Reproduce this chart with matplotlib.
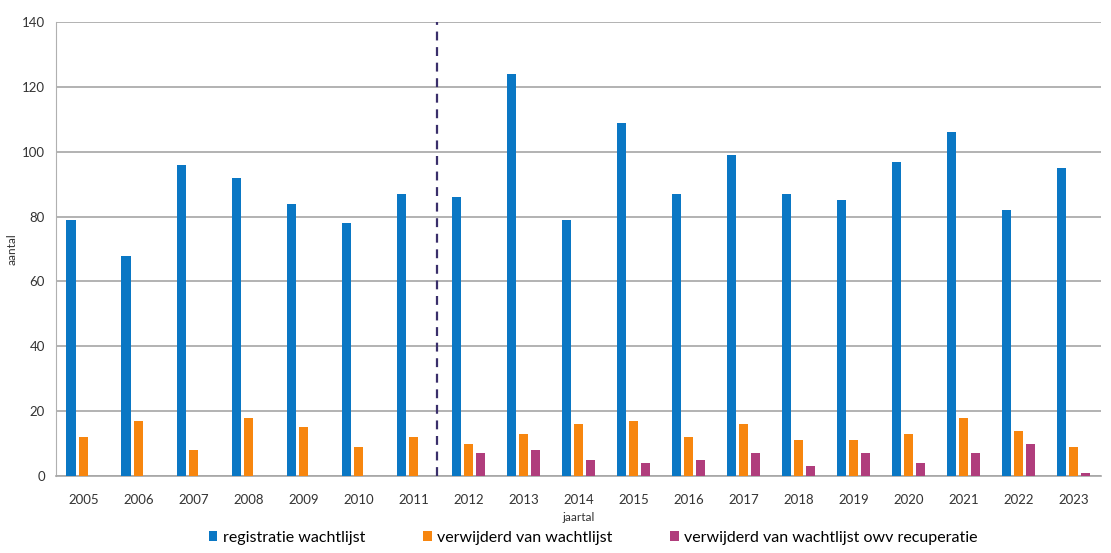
import numpy as np
import matplotlib.pyplot as plt

# Jaarlijkse cijfers wachtlijst
jaren = ["2005", "2006", "2007", "2008", "2009", "2010", "2011", "2012", "2013", "2014",
         "2015", "2016", "2017", "2018", "2019", "2020", "2021", "2022", "2023"]
registratie = [79, 68, 96, 92, 84, 78, 87, 86, 124, 79, 109, 87, 99, 87, 85, 97, 106, 82, 95]
verwijderd = [12, 17, 8, 18, 15, 9, 12, 10, 13, 16, 17, 12, 16, 11, 11, 13, 18, 14, 9]
recuperatie = [0, 0, 0, 0, 0, 0, 0, 7, 8, 5, 4, 5, 7, 3, 7, 4, 7, 10, 1]

plt.rcParams['font.family'] = ['Lato', 'DejaVu Sans']

fig = plt.figure(figsize=(11.11, 5.53), dpi=100)
ax = fig.add_axes([0.0504, 0.1392, 0.9406, 0.8208])

x = np.arange(len(jaren))
w = 0.17
d = 0.224
ax.bar(x - d, registratie, w, color='#0a77c4', label='registratie wachtlijst', zorder=3)
ax.bar(x, verwijderd, w, color='#f7860f', label='verwijderd van wachtlijst', zorder=3)
ax.bar(x + d, recuperatie, w, color='#b03d7c',
       label='verwijderd van wachtlijst owv recuperatie', zorder=3)

# scheiding tussen 2011 en 2012
ax.axvline(6.42, color='#3a2f6b', linestyle=(0, (4, 3)), linewidth=1.6, zorder=4)

ax.set_xlim(-0.5, len(jaren) - 0.5)
ax.set_ylim(0, 140)
ax.set_yticks(range(0, 141, 20))
ax.set_xticks(x)
ax.set_xticklabels(jaren)
ax.tick_params(axis='both', length=0, labelsize=9.5, colors='#333333')
ax.tick_params(axis='x', pad=13)
ax.tick_params(axis='y', pad=8)
ax.yaxis.grid(True, color='#a6a6a6', linewidth=1.2, zorder=0)

for s in ['top', 'right']:
    ax.spines[s].set_visible(False)
ax.spines['left'].set_color('#b0b0b0')
ax.spines['bottom'].set_color('#a6a6a6')
ax.spines['bottom'].set_linewidth(1.2)

ax.set_xlabel('jaartal', fontsize=8.5, color='#333333', labelpad=4)
ax.set_ylabel('aantal', fontsize=8.5, color='#333333')
ax.yaxis.set_label_coords(-0.037, 0.5)

fig.legend(loc='center', bbox_to_anchor=(0.534, 0.028), ncol=3, frameon=False,
           fontsize=11.5, handlelength=0.55, handleheight=0.55, handletextpad=0.35,
           columnspacing=3.6)

fig.savefig('out.png', dpi=100)
